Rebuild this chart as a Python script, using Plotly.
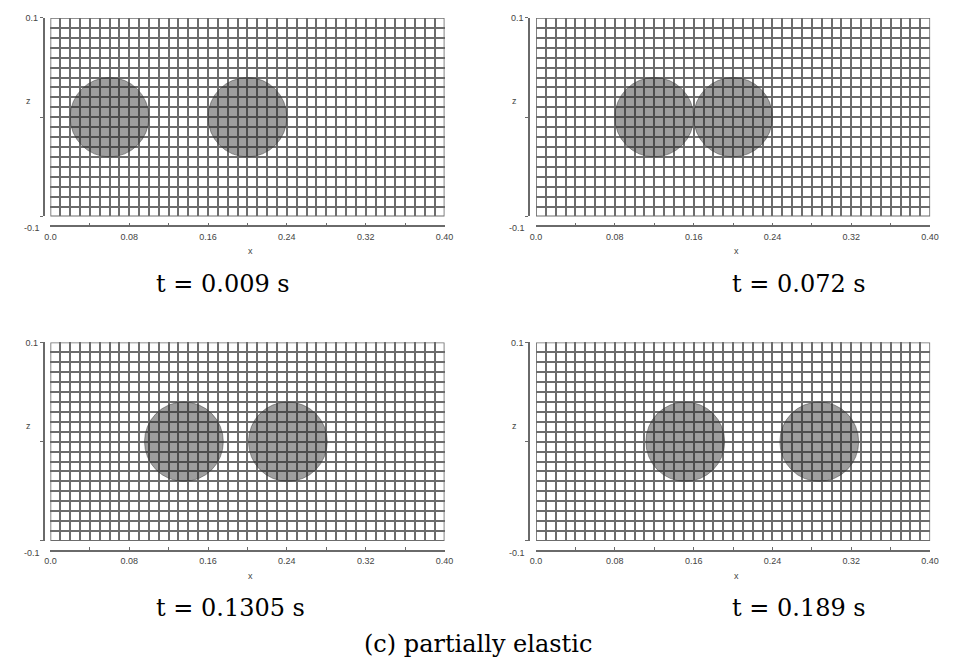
import plotly.graph_objects as go

# ---- data ----
time_labels = ["t = 0.009 s", "t = 0.072 s", "t = 0.1305 s", "t = 0.189 s"]
particle1_x = [0.06, 0.12, 0.1355, 0.1515]
particle2_x = [0.20, 0.20, 0.241, 0.2875]
particle_z = [0.0, 0.0, 0.0, 0.0]
radius = 0.04
x_range = [0.0, 0.40]
z_range = [-0.1, 0.1]
x_tickvals = [0.0, 0.04, 0.08, 0.12, 0.16, 0.20, 0.24, 0.28, 0.32, 0.36, 0.40]
x_ticktext = ["0.0", "", "0.08", "", "0.16", "", "0.24", "", "0.32", "", "0.40"]
z_tickvals = [-0.1, 0.0, 0.1]
z_ticktext = ["", "", "0.1"]
caption = "(c) partially elastic"

# page body has an 8px margin: the figure is sized to fit inside the window
OFF = 8
W, H = 954 - 2 * OFF, 666 - 2 * OFF
def fx(px):
    return (px - OFF) / W
def fy(py):
    return 1 - (py - OFF) / H

GRID = "#6c6c6c"
AX = "#6a6a6a"
TICKFONT = dict(family="Liberation Sans", size=9, color="#444")

# panel placement (pixels in the reference): left, top
panels = [(45, 13), (538.5, 13), (45, 340), (538.5, 340)]
PW, PH = 400.5, 200
caption_pos = [(150, 281), (736, 281), (150, 608), (736, 608)]

minor_x = [round(i * 0.01, 2) for i in range(0, 41)]
minor_z = [round(-0.1 + i * 0.01, 2) for i in range(0, 21)]

fig = go.Figure()
layout = dict(width=W, height=H, margin=dict(l=0, r=0, t=0, b=0),
              paper_bgcolor="white", plot_bgcolor="white", showlegend=False)
shapes = []
annotations = []

for i, (L, T) in enumerate(panels):
    sfx = "" if i == 0 else str(i + 1)
    xref, yref = "x" + sfx, "y" + sfx
    fig.add_trace(go.Scatter(x=[particle1_x[i], particle2_x[i]],
                             y=[particle_z[i], particle_z[i]],
                             xaxis=xref, yaxis=yref, mode="markers",
                             marker=dict(size=1, opacity=0), hoverinfo="skip"))
    layout["xaxis" + sfx] = dict(
        domain=[fx(L), fx(L + PW)], range=x_range, anchor="free",
        position=fy(T + PH + 10), tickvals=x_tickvals, ticktext=x_ticktext,
        showgrid=True, gridcolor=GRID, gridwidth=1.7,
        minor=dict(tickvals=minor_x, showgrid=True, gridcolor=GRID,
                   gridwidth=1.7, ticks=""),
        showline=True, linecolor=AX, linewidth=1.5, ticks="inside",
        ticklen=3, tickcolor=AX, zeroline=False, tickfont=TICKFONT,
        ticklabelstandoff=2, fixedrange=True)
    layout["yaxis" + sfx] = dict(
        domain=[fy(T + PH), fy(T)], range=z_range, anchor="free",
        position=fx(L - 7), tickvals=z_tickvals, ticktext=z_ticktext,
        showgrid=True, gridcolor=GRID, gridwidth=1.7,
        minor=dict(tickvals=minor_z, showgrid=True, gridcolor=GRID,
                   gridwidth=1.7, ticks=""),
        showline=True, linecolor=AX, linewidth=1.5, ticks="outside",
        ticklen=3, tickcolor=AX, zeroline=False, tickfont=TICKFONT,
        fixedrange=True)
    # particles (translucent so the grid shows through, as in the reference)
    for cx in (particle1_x[i], particle2_x[i]):
        shapes.append(dict(type="circle", xref=xref, yref=yref,
                           x0=cx - radius, x1=cx + radius,
                           y0=particle_z[i] - radius, y1=particle_z[i] + radius,
                           fillcolor="rgba(40,40,40,0.45)",
                           line=dict(color="rgba(60,60,60,0.5)", width=1),
                           layer="above"))
    # frame
    shapes.append(dict(type="rect", xref=xref, yref=yref,
                       x0=x_range[0], x1=x_range[1], y0=z_range[0], y1=z_range[1],
                       line=dict(color=GRID, width=1.7), layer="between"))
    # axis labels
    annotations.append(dict(text="-0.1", x=fx(L - 19), y=fy(T + 212),
                            xref="paper", yref="paper", showarrow=False,
                            font=TICKFONT, xanchor="center", yanchor="middle"))
    annotations.append(dict(text="z", x=fx(L - 22), y=fy(T + 84),
                            xref="paper", yref="paper", showarrow=False,
                            font=TICKFONT, xanchor="center", yanchor="middle"))
    annotations.append(dict(text="x", x=fx(L + PW / 2 + 3), y=fy(T + 235),
                            xref="paper", yref="paper", showarrow=False,
                            font=TICKFONT, xanchor="center", yanchor="middle"))
    cxp, cyp = caption_pos[i]
    annotations.append(dict(text=time_labels[i], x=fx(cxp), y=fy(cyp),
                            xref="paper", yref="paper", showarrow=False,
                            font=dict(family="DejaVu Serif", size=24, color="black"),
                            xanchor="left", yanchor="middle"))

annotations.append(dict(text=caption, x=fx(480), y=fy(644), xref="paper",
                        yref="paper", showarrow=False,
                        font=dict(family="DejaVu Serif", size=24, color="black"),
                        xanchor="center", yanchor="middle"))

layout["shapes"] = shapes
layout["annotations"] = annotations
fig.update_layout(**layout)
fig.write_html("out.html")
